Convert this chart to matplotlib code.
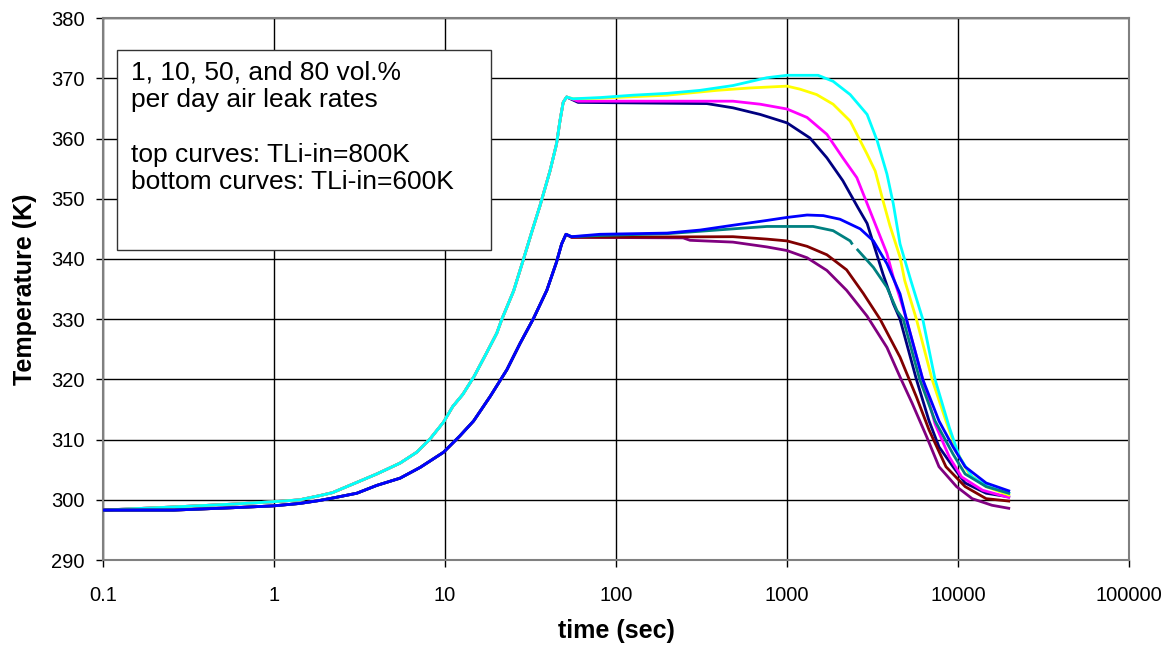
import numpy as np
import matplotlib
matplotlib.use("Agg")
import matplotlib.pyplot as plt
from matplotlib.patches import Rectangle

plt.rcParams['font.family'] = ['Liberation Sans', 'DejaVu Sans']

# Shared heat-up transient (time in s, temperature in K)
t_rise_top = [0.1, 0.25, 0.58, 1.0, 1.41, 1.85, 2.2, 3.05, 3.99, 5.46, 6.83, 8.17, 9.8,
              11.1, 12.7, 14.8, 17.5, 20.1, 21.5, 25.2, 28.8, 32.1, 35.9, 41.1, 44.9,
              47.0, 49.1, 51.4]
T_rise_top = [298.3, 298.8, 299.3, 299.7, 300.0, 300.7, 301.2, 302.9, 304.3, 306.1, 307.9,
              310.1, 312.9, 315.5, 317.5, 320.5, 324.4, 327.7, 330.0, 334.7, 340.0, 344.4,
              348.8, 354.6, 359.1, 362.9, 366.0, 366.9]

t_rise_bot = [0.1, 0.26, 0.58, 0.99, 1.41, 1.85, 2.2, 3.05, 3.99, 5.46, 7.17, 9.8, 12.2,
              14.7, 18.4, 23.0, 27.5, 32.9, 39.4, 44.9, 48.1, 51.0]
T_rise_bot = [298.3, 298.3, 298.7, 299.0, 299.4, 299.9, 300.3, 301.1, 302.4, 303.6, 305.4,
              307.9, 310.6, 313.1, 317.2, 321.6, 326.0, 330.1, 334.8, 339.5, 342.5, 344.1]

# TLi-in = 800 K, air leak rates 1, 10, 50, 80 vol.%/day
t_800_1 = [60, 340, 483, 697, 1000, 1360, 1710, 2120, 2590, 2940, 3640, 4180, 4580, 5710,
           6770, 7740, 9350, 11000, 14600, 19800]
T_800_1 = [366.0, 365.8, 365.1, 364.0, 362.6, 360.1, 356.8, 353.0, 348.6, 345.9, 337.5,
           332.6, 330.0, 320.0, 313.1, 308.8, 305.5, 302.8, 301.1, 300.5]

t_800_10 = [60, 483, 697, 1000, 1310, 1710, 2120, 2560, 2940, 3840, 4180, 4580, 4990, 6220,
            7340, 8900, 10500, 13900, 19800]
T_800_10 = [366.2, 366.2, 365.7, 364.9, 363.5, 360.7, 356.8, 353.5, 349.2, 340.9, 337.0,
            333.5, 330.0, 320.0, 312.6, 307.1, 303.8, 301.6, 300.4]

t_800_50 = [56, 80.6, 199, 389, 608, 1000, 1190, 1490, 1860, 2340, 2940, 3280, 3640, 4000,
            4580, 4880, 5710, 7050, 8500, 9800, 11600, 14600, 19800]
T_800_50 = [366.6, 366.7, 367.2, 368.0, 368.4, 368.7, 368.2, 367.3, 365.7, 362.9, 357.4,
            354.6, 349.7, 345.5, 340.3, 336.4, 330.0, 320.0, 313.1, 308.1, 304.3, 302.2,
            300.8]

t_800_80 = [56, 80.6, 126, 199, 310, 483, 763, 1000, 1520, 1860, 2340, 2940, 3370, 3840,
            4180, 4580, 5300, 6220, 7340, 8900, 10200, 12100, 15000, 19800]
T_800_80 = [366.6, 366.8, 367.2, 367.5, 368.0, 368.8, 370.1, 370.5, 370.5, 369.5, 367.3,
            364.0, 359.6, 354.1, 349.2, 342.5, 336.4, 330.0, 320.0, 312.0, 307.1, 303.8,
            302.2, 301.1]

# TLi-in = 600 K, air leak rates 1, 10, 50, 80 vol.%/day
t_600_1 = [55, 247, 271, 483, 763, 1000, 1310, 1710, 2230, 2940, 3840, 4580, 5400, 6550,
           7740, 9800, 12100, 15800, 19800]
T_600_1 = [343.6, 343.5, 343.1, 342.8, 342.0, 341.4, 340.2, 338.1, 334.8, 330.5, 325.3,
           320.4, 316.0, 310.5, 305.5, 302.2, 300.2, 299.1, 298.6]

t_600_10 = [55, 483, 763, 1000, 1310, 1710, 2230, 2790, 3500, 4580, 5710, 6770, 8500,
            11000, 14600, 19800]
T_600_10 = [343.6, 343.7, 343.3, 343.0, 342.1, 340.7, 338.2, 334.3, 330.0, 323.7, 317.1,
            311.6, 305.5, 302.2, 300.2, 299.8]

t_600_50 = [55, 80.6, 199, 483, 763, 1420, 1860, 2340, 2390, 2480, 2590, 3200, 3840, 4400,
            4780, 5970, 7340, 9350, 11000, 14600, 19800]
T_600_50 = [343.7, 343.9, 344.2, 345.0, 345.4, 345.4, 344.7, 343.0, 342.6, np.nan, 341.5,
            338.6, 335.3, 331.4, 330.0, 320.0, 313.1, 307.6, 304.3, 302.2, 301.1]

t_600_80 = [55, 80.6, 199, 310, 483, 763, 1000, 1310, 1630, 2040, 2680, 3200, 3840, 4580,
            4990, 6220, 7740, 9350, 11000, 14600, 19800]
T_600_80 = [343.7, 344.1, 344.3, 344.8, 345.6, 346.4, 346.9, 347.3, 347.2, 346.6, 345.0,
            343.0, 339.2, 334.2, 330.0, 320.0, 313.1, 308.8, 305.5, 302.8, 301.5]

x_ticks = [0.1, 1, 10, 100, 1000, 10000, 100000]
x_tick_labels = ["0.1", "1", "10", "100", "1000", "10000", "100000"]
y_ticks = list(range(290, 381, 10))

series = [
    (t_rise_top, T_rise_top, t_800_1, T_800_1, "#000080"),
    (t_rise_top, T_rise_top, t_800_10, T_800_10, "#FF00FF"),
    (t_rise_top, T_rise_top, t_800_50, T_800_50, "#FFFF00"),
    (t_rise_top, T_rise_top, t_800_80, T_800_80, "#00FFFF"),
    (t_rise_bot, T_rise_bot, t_600_1, T_600_1, "#800080"),
    (t_rise_bot, T_rise_bot, t_600_10, T_600_10, "#800000"),
    (t_rise_bot, T_rise_bot, t_600_50, T_600_50, "#008080"),
    (t_rise_bot, T_rise_bot, t_600_80, T_600_80, "#0000FF"),
]

fig = plt.figure(figsize=(11.7, 6.46), dpi=100)
ax = fig.add_axes([0.088, 0.133, 0.877, 0.839])

for tr, Tr, tp, Tp, col in series:
    t = np.concatenate([tr, tp])
    T = np.concatenate([Tr, Tp])
    ax.plot(t, T, color=col, lw=2.0, solid_joinstyle='round', zorder=3)

ax.set_xscale('log')
ax.set_xlim(0.1, 100000)
ax.set_ylim(290, 380)
ax.set_xticks(x_ticks)
ax.set_xticklabels(x_tick_labels)
ax.xaxis.set_minor_locator(matplotlib.ticker.NullLocator())
ax.set_yticks(y_ticks)

ax.grid(True, which='major', color='black', lw=1.0, zorder=1)
ax.set_axisbelow(True)
for s in ax.spines.values():
    s.set_color('#808080')
    s.set_linewidth(1.5)

ax.tick_params(axis='both', direction='out', length=5, width=1, color='black',
               labelsize=14.5, pad=8)
ax.tick_params(axis='x', pad=14)

ax.set_xlabel("time (sec)", fontsize=18, fontweight='bold', labelpad=10)
ax.set_ylabel("Temperature (K)", fontsize=18, fontweight='bold', labelpad=10)

# Annotation box
ax.add_patch(Rectangle((0.0136, 0.572), 0.365, 0.369, transform=ax.transAxes,
                       facecolor='white', edgecolor='#333333', lw=1.0, zorder=4))
ax.text(0.027, 0.922,
        "1, 10, 50, and 80 vol.%\nper day air leak rates\n\n"
        "top curves: TLi-in=800K\nbottom curves: TLi-in=600K",
        transform=ax.transAxes, ha='left', va='top', fontsize=19,
        linespacing=1.18, zorder=5)

fig.savefig("out.png", dpi=100)
